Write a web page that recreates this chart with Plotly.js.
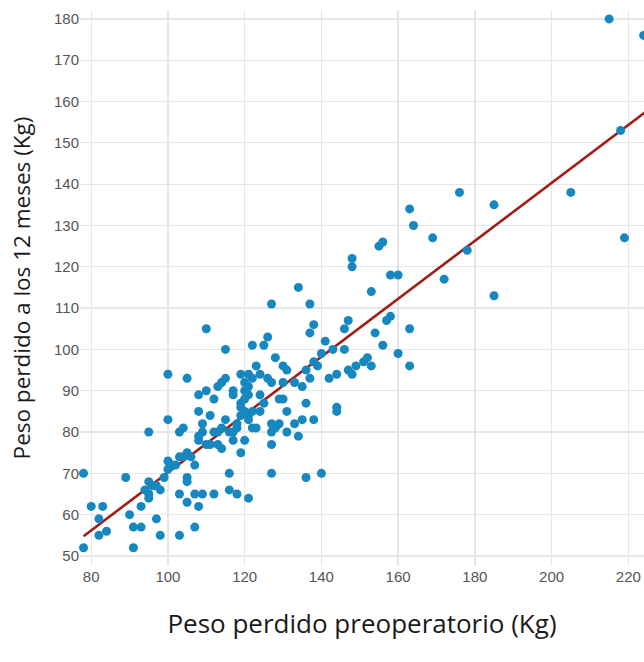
<!DOCTYPE html>
<html>
<head>
<meta charset="utf-8">
<script src="https://cdn.plot.ly/plotly-3.0.1.min.js"></script>
<style>
  html, body { margin: 0; padding: 0; background: #fff; }
  #chart { width: 644px; height: 662px; }
</style>
</head>
<body>
<div id="chart"></div>
<script>
// Peso perdido preoperatorio (Kg)
const pesoPreop = [
  78, 78, 80, 83, 82, 82, 84, 89, 90, 91, 93, 91, 93, 95, 96, 95, 95, 98, 97, 98,
  95, 99, 100, 101, 100, 102, 100, 100, 103, 104, 103, 104, 105, 106, 105, 107, 105, 105, 103, 105,
  107, 108, 109, 103, 107, 112, 116, 118, 121, 116, 127, 136, 140, 97, 94,
  108, 110, 108, 111, 112, 109, 109, 108, 108, 110, 111, 113, 114, 112, 113, 115, 114, 116, 117, 117,
  118, 119, 120, 110, 115, 115, 114, 113, 117, 117, 119, 119, 120, 120, 121, 120, 121, 119, 122, 121,
  120, 121, 119, 118, 121, 122, 124, 125, 124, 123, 124, 126, 122, 123, 122, 125, 126, 127, 128, 130,
  131, 130, 133, 129, 130, 131, 129, 133, 131, 127, 128, 127, 127, 127, 134, 137, 138, 137, 141, 140,
  143, 146, 146, 147, 135, 136, 137, 138, 139, 142, 144, 144, 144, 136, 135, 138, 134,
  147, 148, 149, 151, 152, 153, 154, 156, 157, 158, 163, 160, 163, 153, 148, 148, 158, 160, 155, 156,
  163, 164, 169, 172, 176, 178, 185, 185, 205, 215, 218, 219, 224
];
// Peso perdido a los 12 meses (Kg)
const peso12m = [
  70, 52, 62, 62, 59, 55, 56, 69, 60, 57, 57, 52, 62, 68, 67, 65, 64, 66, 59, 55,
  80, 69, 73, 72, 71, 72, 83, 94, 80, 81, 74, 74, 75, 74, 93, 72, 69, 68, 65, 63,
  65, 62, 65, 55, 57, 65, 66, 65, 64, 70, 70, 69, 70, 67, 66,
  89, 90, 85, 84, 88, 82, 80, 79, 78, 77, 77, 77, 76, 80, 80, 83, 81, 80, 80, 78,
  81, 75, 78, 105, 100, 93, 92, 91, 90, 89, 86, 87, 88, 90, 89, 92, 94, 94, 93, 91,
  85, 84, 84, 82, 83, 85, 85, 87, 89, 96, 94, 93, 81, 81, 101, 101, 103, 92, 98, 96,
  95, 92, 92, 88, 88, 85, 82, 82, 80, 80, 81, 82, 77, 111, 115, 111, 106, 104, 102, 99,
  100, 100, 105, 107, 91, 95, 93, 97, 96, 93, 94, 86, 85, 87, 83, 83, 79,
  95, 94, 96, 97, 98, 96, 104, 101, 107, 108, 105, 99, 96, 114, 122, 120, 118, 118, 125, 126,
  134, 130, 127, 117, 138, 124, 135, 113, 138, 180, 153, 127, 176
];
// Recta de regresión (extremos)
const rectaX = [78, 226];
const rectaY = [54.8, 158.5];

const xTicks = [80, 100, 120, 140, 160, 180, 200, 220];
const yTicks = [50, 60, 70, 80, 90, 100, 110, 120, 130, 140, 150, 160, 170, 180];

const puntos = {
  x: pesoPreop, y: peso12m, type: 'scatter', mode: 'markers',
  marker: { color: '#1787bf', size: 9, line: { width: 0 } },
  cliponaxis: false, hoverinfo: 'x+y'
};
const recta = {
  x: rectaX, y: rectaY, type: 'scatter', mode: 'lines',
  line: { color: '#a11c14', width: 2.6 }, hoverinfo: 'skip'
};

const tickFont = { family: 'Liberation Sans, Arial, sans-serif', size: 15, color: '#555' };
const xTitleFont = { family: 'Open Sans, Noto Sans, sans-serif', size: 26, color: '#1a1a1a' };
const yTitleFont = { family: 'Open Sans, Noto Sans, sans-serif', size: 22.5, color: '#1a1a1a' };

const layout = {
  width: 644, height: 662,
  margin: { l: 80, r: 0, t: 10, b: 96, pad: 0 },
  paper_bgcolor: '#fff', plot_bgcolor: '#fff',
  showlegend: false,
  xaxis: {
    range: [77.08, 224.09], tickvals: xTicks, ticktext: xTicks.map(String),
    showgrid: true, gridcolor: '#e6e6e6', gridwidth: 1.3, zeroline: false,
    showline: false, ticks: '', tickfont: tickFont,
    title: { text: 'Peso perdido preoperatorio (Kg)', font: xTitleFont, standoff: 30 }
  },
  yaxis: {
    range: [47.58, 182.15], tickvals: yTicks, ticktext: yTicks.map(String),
    showgrid: true, gridcolor: '#e6e6e6', gridwidth: 1.3, zeroline: false,
    showline: false, ticks: '', tickfont: tickFont,
    title: { text: 'Peso perdido a los 12 meses (Kg)', font: yTitleFont, standoff: 17 }
  }
};

Plotly.newPlot('chart', [recta, puntos], layout, { displayModeBar: false, staticPlot: true });
</script>
</body>
</html>
